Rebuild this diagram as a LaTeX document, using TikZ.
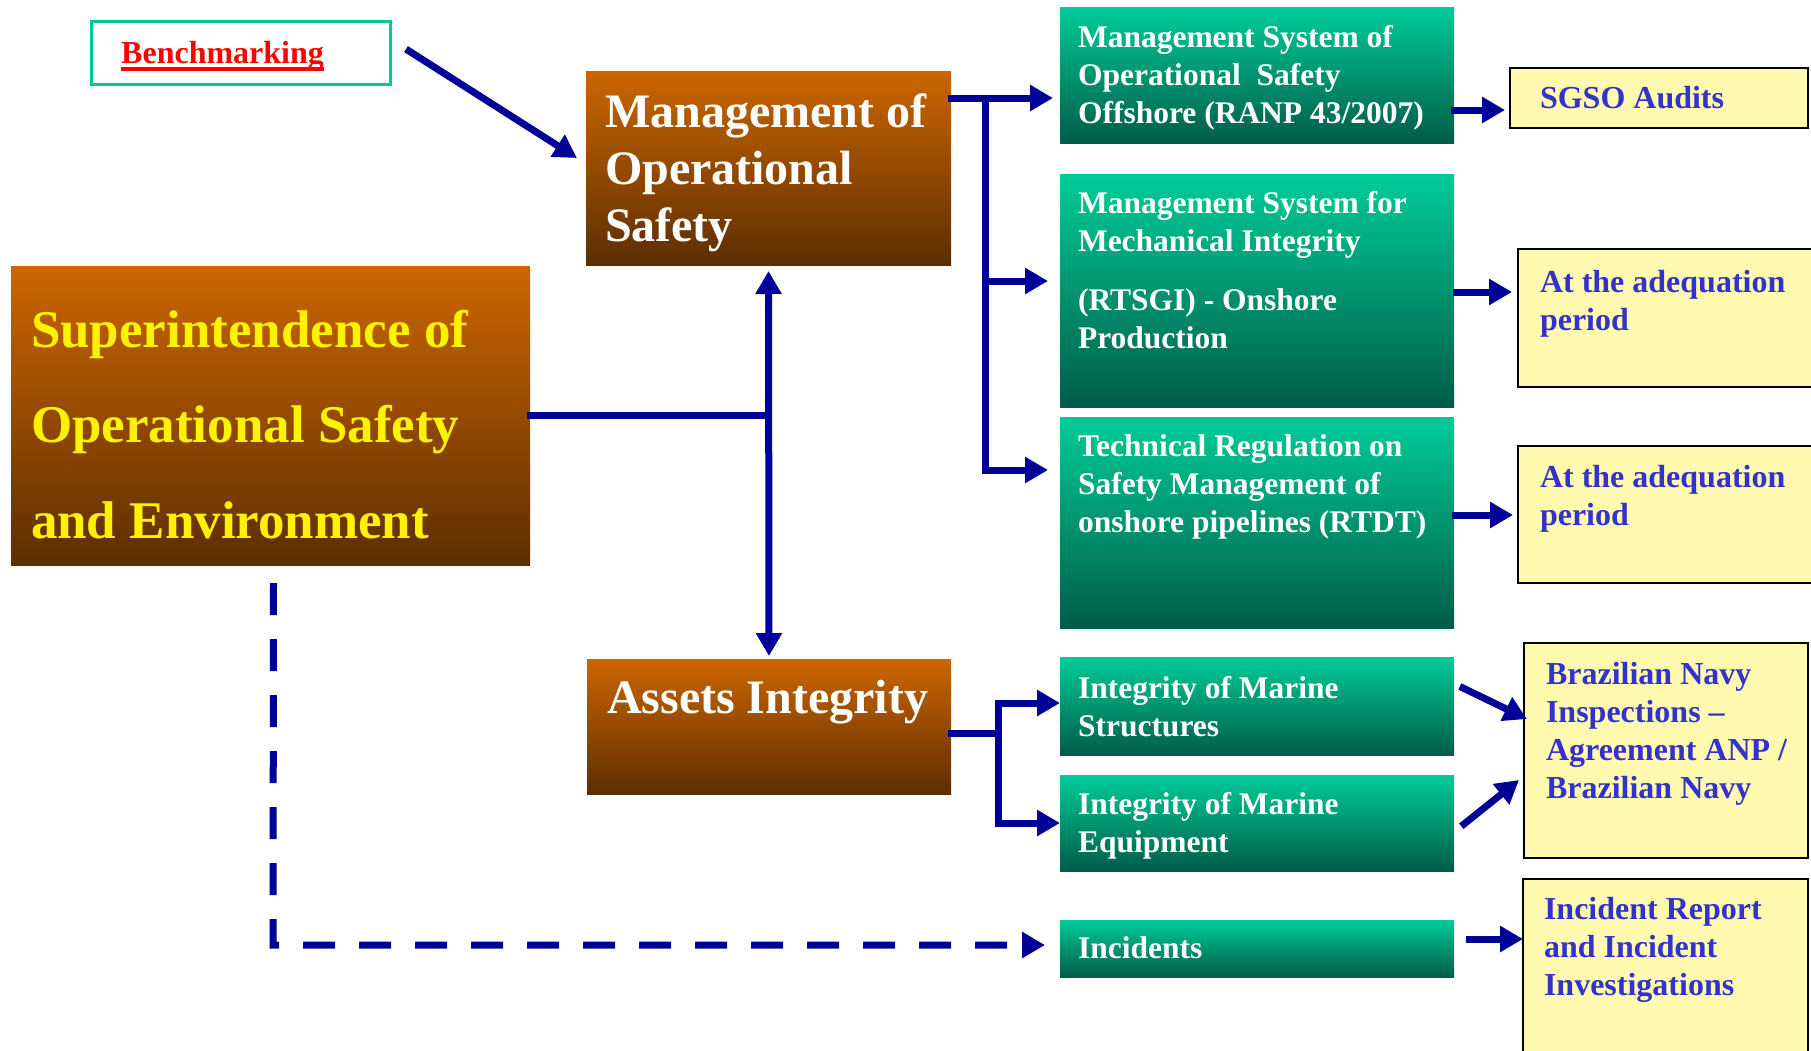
\documentclass[tikz,border=0pt]{standalone}
\usepackage{fontspec}
\setmainfont{Liberation Serif}
\usetikzlibrary{arrows.meta}
\definecolor{brtop}{RGB}{204,102,0}
\definecolor{brbot}{RGB}{92,46,0}
\definecolor{grtop}{RGB}{0,204,153}
\definecolor{grbot}{RGB}{0,92,72}
\definecolor{navyc}{RGB}{0,0,153}
\definecolor{yfill}{RGB}{255,250,175}
\definecolor{ytext}{RGB}{51,51,204}
\definecolor{tealb}{RGB}{0,200,150}
\newcommand{\fst}{\rule{0pt}{0.9em}}
\newcommand{\fsz}[2]{\fontsize{#1}{#2}\selectfont\bfseries}
\newcommand{\redul}[1]{\setbox0\hbox{#1}\rlap{\rule[-7pt]{\wd0}{3.5pt}}\box0}
\begin{document}
\begin{tikzpicture}[x=1pt,y=-1pt,
  box/.style={draw=none, inner sep=0pt, outer sep=0pt, anchor=north west},
  brownbox/.style={box, top color=brtop, bottom color=brbot},
  greenbox/.style={box, top color=grtop, bottom color=grbot},
  ybox/.style={box, draw=black, line width=2pt, fill=yfill},
  txt/.style={anchor=north west, inner sep=0pt, outer sep=0pt, align=left},
  wtxt/.style={txt, text=white},
  gtxt/.style={txt, text=white, font=\fsz{31.5}{38}},
  ytxt/.style={txt, text=ytext, font=\fsz{32}{38}},
  ln/.style={draw=navyc, line width=7pt, line cap=rect},
  arr/.style={ln, -{Triangle[length=23pt,width=25pt]}},
  dasharr/.style={draw=navyc, line width=7pt, dash pattern=on 32pt off 24pt, -{Triangle[length=23pt,width=25pt]}}
]
\useasboundingbox (0,0) rectangle (1811,1050);

% boxes
\node[box, draw=tealb, line width=3pt, fill=white, minimum width=299pt, minimum height=63pt] (bench) at (91,21) {};
\node[brownbox, minimum width=365pt, minimum height=194pt] (mos) at (586,71) {};
\node[brownbox, minimum width=519pt, minimum height=299pt] (sose) at (11,266) {};
\node[brownbox, minimum width=364pt, minimum height=135pt] (assets) at (587,659) {};

\node[greenbox, minimum width=394pt, minimum height=136pt] (g1) at (1060,7) {};
\node[greenbox, minimum width=394pt, minimum height=233pt] (g2) at (1060,174) {};
\node[greenbox, minimum width=394pt, minimum height=211pt] (g3) at (1060,417) {};
\node[greenbox, minimum width=394pt, minimum height=98pt] (g4) at (1060,657) {};
\node[greenbox, minimum width=394pt, minimum height=96pt] (g5) at (1060,775) {};
\node[greenbox, minimum width=394pt, minimum height=57pt] (g6) at (1060,920) {};

\node[ybox, minimum width=298pt, minimum height=60pt] (y1) at (1510,68) {};
\node[ybox, minimum width=300pt, minimum height=138pt] (y2) at (1518,249) {};
\node[ybox, minimum width=300pt, minimum height=137pt] (y3) at (1518,446) {};
\node[ybox, minimum width=284pt, minimum height=215pt] (navy) at (1524,643) {};
\node[ybox, minimum width=285pt, minimum height=190pt] (inc) at (1523,879) {};

% texts
\node[anchor=base west, inner sep=0pt, text=red, font=\fsz{32}{38}] (bencht) at (121,63.5) {\redul{Benchmarking}};
\node[wtxt, font=\fsz{48}{57}] (most) at (605,83.8) {\fst Management of\\Operational\\Safety};
\node[txt, text=yellow, font=\fsz{53}{95.5}] (soset) at (31,299.3) {\fst Superintendence of\\Operational Safety\\and Environment};
\node[wtxt, font=\fsz{48}{57}] (assetst) at (607,669.8) {\fst Assets Integrity};

\node[gtxt] (g1t) at (1078,18.7) {\fst Management System of\\Operational\ \ Safety\\Offshore (RANP 43/2007)};
\node[gtxt] (g2t) at (1078,184.7) {\fst Management System for\\Mechanical Integrity\\[21pt](RTSGI) - Onshore\\Production};
\node[gtxt] (g3t) at (1078,427.7) {\fst Technical Regulation on\\Safety Management of\\onshore pipelines (RTDT)};
\node[gtxt] (g4t) at (1078,669.7) {\fst Integrity of Marine\\Structures};
\node[gtxt] (g5t) at (1078,785.7) {\fst Integrity of Marine\\Equipment};
\node[gtxt] (g6t) at (1078,929.7) {\fst Incidents};

\node[ytxt] (y1t) at (1540,79.2) {\fst SGSO Audits};
\node[ytxt] (y2t) at (1540,263.2) {\fst At the adequation\\period};
\node[ytxt] (y3t) at (1540,458.2) {\fst At the adequation\\period};
\node[ytxt] (navyt) at (1546,655.2) {\fst Brazilian Navy\\Inspections --\\Agreement ANP /\\Brazilian Navy};
\node[ytxt] (inct) at (1544,890.2) {\fst Incident Report\\and Incident\\Investigations};

% junction coordinates
\coordinate (bs) at (409,51);
\coordinate (mj) at (985,98);
\coordinate (mj2) at (985,281);
\coordinate (mj3) at (985,470);
\coordinate (aj) at (998,733);
\coordinate (aj1) at (998,703);
\coordinate (aj2) at (998,823);
\coordinate (dc) at (273,945);
\coordinate (a1) at (1454,110);
\coordinate (a2) at (1456,292);
\coordinate (a3) at (1455,515);
\coordinate (a4) at (1463,688);
\coordinate (a5) at (1464,824);
\coordinate (a6) at (1469,939);

% connectors
\draw[arr] (bs) -- ([xshift=-9pt,yshift=10pt]mos.west);
\draw[ln] (sose.east) -- (sose.east -| mos.south);
\draw[ln, line cap=butt, {Triangle[length=23pt,width=25pt]}-{Triangle[length=23pt,width=25pt]}, shorten <=6pt, shorten >=3pt] (mos.south) -- (assets.north);

\draw[arr, shorten >=7pt] (mos.east |- mj) -- (g1.west |- mj);
\draw[arr, shorten >=12pt] (mj) -- (mj3) -- (g3.west |- mj3);
\draw[arr, shorten >=12pt] (mj2) -- (g2.west |- mj2);

\draw[ln] (assets.east |- aj) -- (aj);
\draw[arr] (aj2) -- (aj1) -- (g4.west |- aj1);
\draw[arr] (aj2) -- (g5.west |- aj2);

\draw[dasharr, shorten >=15pt] ([shift={(3,18)}]sose.south) -- (dc) -- (g6.west |- dc);

\draw[arr, shorten >=5pt] (a1) -- (y1.west |- a1);
\draw[arr, shorten >=6pt] (a2) -- (y2.west |- a2);
\draw[arr, shorten >=5pt] (a3) -- (y3.west |- a3);
\draw[arr] (a4) -- ([shift={(3,76)}]navy.north west);
\draw[arr] (a5) -- ([shift={(-5,137)}]navy.north west);
\draw[arr] (a6) -- (inc.west |- a6);
\end{tikzpicture}
\end{document}
